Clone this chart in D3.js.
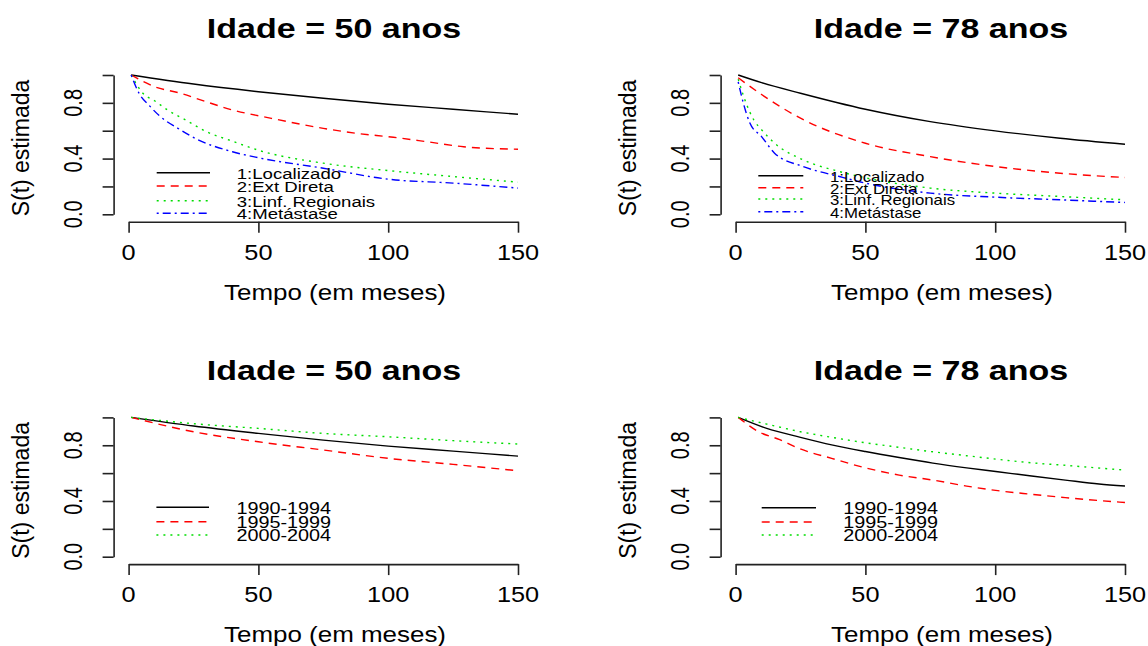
<!DOCTYPE html>
<html>
<head>
<meta charset="utf-8">
<script src="https://cdn.jsdelivr.net/npm/d3@7"></script>
<style>
  body { margin: 0; background: #fff; }
  text { font-family: "Liberation Sans", Arial, sans-serif; fill: #000; }
</style>
</head>
<body>
<svg id="chart" width="1148" height="646"></svg>
<script>
// ---- data ----
const xTicks = [0, 50, 100, 150];
const yTicks = [0, 0.2, 0.4, 0.6, 0.8, 1.0];
const yTickLabels = ["0.0", "", "0.4", "", "0.8", ""];
const titles = ["Idade = 50 anos", "Idade = 78 anos", "Idade = 50 anos", "Idade = 78 anos"];
const estadios = ["1:Localizado", "2:Ext Direta", "3:Linf. Regionais", "4:Metástase"];
const periodos = ["1990-1994", "1995-1999", "2000-2004"];

// idade 50, por estadio
const t50Loc = [1, 25, 50, 75, 100, 125, 150];
const s50Loc = [1.0, 0.935, 0.88, 0.833, 0.79, 0.754, 0.718];
const t50Ext = [1, 10, 20, 28, 40, 55, 75, 88, 102, 115, 129, 150];
const s50Ext = [1.0, 0.916, 0.869, 0.82, 0.749, 0.689, 0.617, 0.581, 0.553, 0.521, 0.485, 0.467];
const t50Linf = [1, 5.5, 10, 15, 22, 30, 40, 50, 75, 100, 125, 150];
const s50Linf = [1.0, 0.869, 0.815, 0.749, 0.677, 0.593, 0.525, 0.46, 0.367, 0.314, 0.271, 0.231];
const t50Met = [1, 4, 8, 12, 19, 27, 40, 50, 75, 100, 125, 150];
const s50Met = [1.0, 0.87, 0.78, 0.705, 0.617, 0.533, 0.449, 0.406, 0.331, 0.252, 0.224, 0.188];

// idade 78, por estadio
const t78Loc = [1, 10, 25, 50, 75, 100, 125, 150];
const s78Loc = [1.0, 0.945, 0.869, 0.754, 0.665, 0.599, 0.546, 0.503];
const t78Ext = [1, 10, 25, 50, 75, 100, 125, 150];
const s78Ext = [0.98, 0.86, 0.69, 0.51, 0.414, 0.343, 0.295, 0.264];
const t78Linf = [1, 4, 7, 10, 15, 26, 40, 50, 75, 100, 125, 150];
const s78Linf = [0.97, 0.80, 0.678, 0.607, 0.511, 0.391, 0.307, 0.262, 0.188, 0.152, 0.128, 0.104];
const t78Met = [1, 3, 5.5, 10, 15, 26, 40, 50, 75, 100, 125, 150];
const s78Met = [0.95, 0.797, 0.655, 0.558, 0.439, 0.343, 0.271, 0.224, 0.152, 0.123, 0.104, 0.085];

// idade 50, por periodo
const tPer = [1, 25, 50, 75, 100, 125, 150];
const p50a = [1.0, 0.938, 0.885, 0.837, 0.794, 0.758, 0.722];
const p50b = [1.0, 0.897, 0.825, 0.766, 0.706, 0.663, 0.617];
const p50c = [1.0, 0.955, 0.921, 0.885, 0.861, 0.833, 0.809];

// idade 78, por periodo
const t78a = [1, 12, 25, 37, 50, 63, 76, 89, 101, 114, 127, 140, 150];
const p78a = [1.0, 0.921, 0.857, 0.803, 0.755, 0.712, 0.672, 0.638, 0.61, 0.579, 0.55, 0.522, 0.507];
const t78b = [1, 9, 17, 24, 37, 50, 63, 76, 89, 101, 114, 127, 150];
const p78b = [1.0, 0.896, 0.84, 0.78, 0.706, 0.638, 0.586, 0.55, 0.507, 0.474, 0.448, 0.424, 0.389];
const t78c = [1, 12, 25, 37, 50, 63, 76, 89, 101, 114, 127, 145, 150];
const p78c = [1.0, 0.952, 0.897, 0.857, 0.818, 0.785, 0.753, 0.725, 0.699, 0.674, 0.656, 0.629, 0.622];

// ---- styles for the 4 line types (R lty 1..4, col 1..4) ----
const estilos = [
  { color: "#000000", dash: null },
  { color: "#ff0000", dash: "8,6" },
  { color: "#00dd00", dash: "2,5" },
  { color: "#0000ff", dash: "2,4,8,4" }
];

const svg = d3.select("#chart");
svg.append("rect").attr("width", 1148).attr("height", 646).attr("fill", "#fff");

// text that is a little wider than tall, like the picture
function txt(g, x, y, s, o) {
  let tr = "translate(" + x + "," + y + ") scale(" + (o.sx || 1.2) + ",1)";
  if (o.rot) tr += " rotate(" + o.rot + ")";
  g.append("text")
    .attr("transform", tr)
    .attr("text-anchor", o.anchor || "start")
    .style("font-size", o.size + "px")
    .style("font-weight", o.bold ? "bold" : null)
    .text(s);
}

const panels = [
  { title: titles[0], dx: 0, dy: 0,
    series: [[t50Loc, s50Loc], [t50Ext, s50Ext], [t50Linf, s50Linf], [t50Met, s50Met]],
    labels: estadios,
    leg: { x0: 156.7, x1: 210, tx: 236.7, rows: [172.7, 186, 200.7, 213.3], size: 15.5, off: 6 } },
  { title: titles[1], dx: 607, dy: 0,
    series: [[t78Loc, s78Loc], [t78Ext, s78Ext], [t78Linf, s78Linf], [t78Met, s78Met]],
    labels: estadios,
    leg: { x0: 151.3, x1: 196.3, tx: 223, rows: [175.7, 187.7, 199, 211.7], size: 14, off: 6 } },
  { title: titles[2], dx: 0, dy: 342.4,
    series: [[tPer, p50a], [tPer, p50b], [tPer, p50c]],
    labels: periodos,
    leg: { x0: 156.4, x1: 209, tx: 236.4, rows: [164.9, 179.3, 192.6], size: 16.5, off: 6.4 } },
  { title: titles[3], dx: 607, dy: 342.4,
    series: [[t78a, p78a], [t78b, p78b], [t78c, p78c]],
    labels: periodos,
    leg: { x0: 154.7, x1: 209, tx: 236.3, rows: [165.3, 179.6, 192.6], size: 16.5, off: 6.4 } }
];

const xScale = d3.scaleLinear().domain([0, 150]).range([128.6, 518]);
const yScale = d3.scaleLinear().domain([0, 1]).range([214.3, 75]);

const line = d3.line()
  .x(d => xScale(d[0]))
  .y(d => yScale(d[1]))
  .curve(d3.curveMonotoneX);

panels.forEach(p => {
  const g = svg.append("g").attr("transform", "translate(" + p.dx + "," + p.dy + ")");

  // axes
  const yAxis = d3.axisLeft(yScale).tickValues(yTicks).tickSize(11).tickSizeOuter(0).tickFormat("");
  const xAxis = d3.axisBottom(xScale).tickValues(xTicks).tickSize(11).tickSizeOuter(0).tickFormat("");
  g.append("g").attr("class", "y-axis").attr("transform", "translate(113.6,0)").call(yAxis);
  g.append("g").attr("class", "x-axis").attr("transform", "translate(0,221.7)").call(xAxis);
  g.selectAll(".domain, .tick line").attr("stroke", "#222").attr("stroke-width", 1.6);

  yTicks.forEach((v, i) => {
    if (yTickLabels[i]) txt(g, 82, yScale(v), yTickLabels[i], { size: 20, sx: 1.25, rot: -90, anchor: "middle" });
  });
  xTicks.forEach(v => txt(g, xScale(v), 259.5, String(v), { size: 22, sx: 1.15, anchor: "middle" }));

  txt(g, 335, 300, "Tempo (em meses)", { size: 22, sx: 1.18, anchor: "middle" });
  txt(g, 29, 148, "S(t) estimada", { size: 23, sx: 1.05, rot: -90, anchor: "middle" });
  txt(g, 334, 37.7, p.title, { size: 27, sx: 1.26, anchor: "middle", bold: true });

  // curves
  p.series.forEach((s, i) => {
    g.append("path")
      .datum(d3.zip(s[0], s[1]))
      .attr("d", line)
      .attr("fill", "none")
      .attr("stroke", estilos[i].color)
      .attr("stroke-width", 1.4)
      .attr("stroke-dasharray", estilos[i].dash);
  });

  // legend (no box)
  p.labels.forEach((lab, i) => {
    const y = p.leg.rows[i];
    g.append("line")
      .attr("x1", p.leg.x0).attr("x2", p.leg.x1)
      .attr("y1", y).attr("y2", y)
      .attr("stroke", estilos[i].color)
      .attr("stroke-width", 1.4)
      .attr("stroke-dasharray", estilos[i].dash);
    txt(g, p.leg.tx, y + p.leg.off, lab, { size: p.leg.size, sx: 1.2 });
  });
});
</script>
</body>
</html>
